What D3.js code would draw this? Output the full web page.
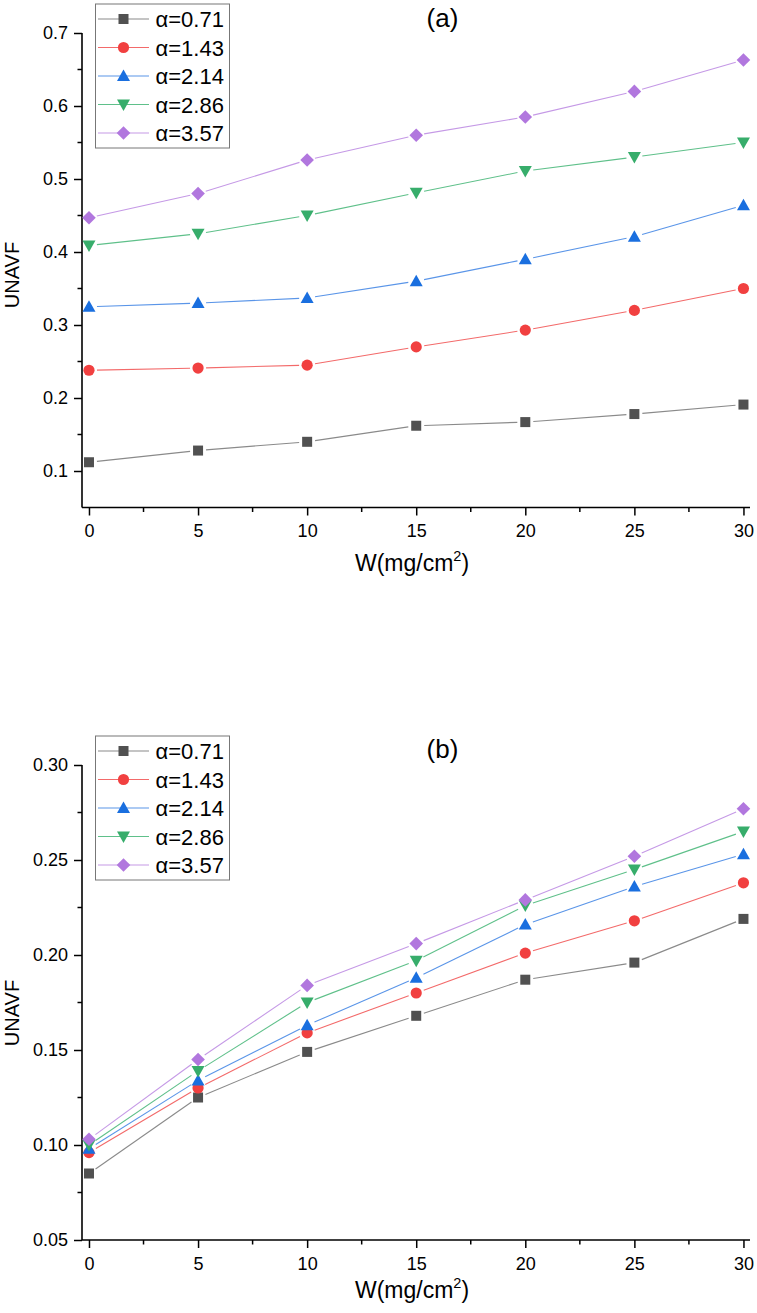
<!DOCTYPE html>
<html><head><meta charset="utf-8">
<script src="https://cdn.jsdelivr.net/npm/d3@7"></script>
<style>body{margin:0;background:#fff}svg{display:block}text{font-family:"Liberation Sans",Arial,sans-serif}</style>
</head><body>
<script>
const xValues = [0, 5, 10, 15, 20, 25, 30];
const seriesNames = ["α=0.71", "α=1.43", "α=2.14", "α=2.86", "α=3.57"];
const seriesColors = ["#515151", "#F14040", "#1A6FDF", "#37AD6B", "#B177DE"];
const lineColors = ["#8a8a8a", "#F36A6A", "#5A95E8", "#5FC08A", "#C599E6"];
const markerTypes = ["square", "circle", "triangle", "down", "diamond"];
const dataA = [
  [0.112, 0.128, 0.140, 0.162, 0.167, 0.178, 0.191],
  [0.238, 0.241, 0.245, 0.270, 0.293, 0.320, 0.350],
  [0.325, 0.330, 0.337, 0.360, 0.390, 0.421, 0.464],
  [0.409, 0.425, 0.450, 0.481, 0.511, 0.530, 0.550],
  [0.447, 0.480, 0.526, 0.560, 0.585, 0.620, 0.663]
];
const dataB = [
  [0.085, 0.125, 0.149, 0.168, 0.187, 0.196, 0.219],
  [0.096, 0.130, 0.159, 0.180, 0.201, 0.218, 0.238],
  [0.098, 0.134, 0.163, 0.188, 0.216, 0.236, 0.253],
  [0.100, 0.139, 0.175, 0.197, 0.226, 0.245, 0.265],
  [0.103, 0.145, 0.184, 0.206, 0.229, 0.252, 0.277]
];
const xTicks = [0, 5, 10, 15, 20, 25, 30];
const yTicksA = [0.1, 0.2, 0.3, 0.4, 0.5, 0.6, 0.7];
const yTicksB = [0.05, 0.10, 0.15, 0.20, 0.25, 0.30];

const W = 757, H = 1313;
const FONT = '"Liberation Sans",Arial,sans-serif';
const svg = d3.select("body").append("svg").attr("width", W).attr("height", H);

function marker(g, type, cx, cy, color) {
  if (type === "square") g.append("rect").attr("x", cx-5).attr("y", cy-5).attr("width", 10).attr("height", 10).attr("fill", color);
  else if (type === "circle") g.append("circle").attr("cx", cx).attr("cy", cy).attr("r", 5.6).attr("fill", color);
  else if (type === "triangle") g.append("path").attr("d", `M${cx},${cy-6.5}L${cx+6.5},${cy+5}L${cx-6.5},${cy+5}Z`).attr("fill", color);
  else if (type === "down") g.append("path").attr("d", `M${cx},${cy+6.5}L${cx+6.5},${cy-5}L${cx-6.5},${cy-5}Z`).attr("fill", color);
  else if (type === "diamond") g.append("path").attr("d", `M${cx},${cy-6.8}L${cx+6.8},${cy}L${cx},${cy+6.8}L${cx-6.8},${cy}Z`).attr("fill", color);
}

function panel(cfg) {
  const x = d3.scaleLinear().domain([-0.32, 30.3]).range([82, 750]);
  const y = d3.scaleLinear().domain(cfg.yDomain).range([cfg.bottom, cfg.top]);
  const g = svg.append("g");
  const xMinor = d3.range(2.5, 30, 5);
  g.append("g").selectAll("line").data(xMinor).join("line")
    .attr("x1", d => x(d)).attr("x2", d => x(d)).attr("y1", cfg.bottom).attr("y2", cfg.bottom + 4.5)
    .attr("stroke", "#000").attr("stroke-width", 1.5);
  g.append("g").selectAll("line").data(cfg.yMinor).join("line")
    .attr("x1", 82).attr("x2", 77.5).attr("y1", d => y(d)).attr("y2", d => y(d))
    .attr("stroke", "#000").attr("stroke-width", 1.5);
  const xAxis = d3.axisBottom(x).tickValues(xTicks).tickSize(8).tickPadding(9).tickFormat(d3.format("d"));
  const gx = g.append("g").attr("transform", `translate(0,${cfg.bottom})`).call(xAxis);
  gx.select(".domain").attr("d", `M82,0H750`).attr("stroke-width", 1.6);
  gx.selectAll(".tick line").attr("stroke-width", 1.5);
  gx.selectAll("text").attr("font-size", 18).attr("fill", "#000").attr("font-family", FONT);
  const yAxis = d3.axisLeft(y).tickValues(cfg.yTicks).tickSize(8).tickPadding(6).tickFormat(cfg.fmt);
  const gy = g.append("g").attr("transform", `translate(82,0)`).call(yAxis);
  gy.select(".domain").attr("d", `M0,${cfg.bottom}V${cfg.top}`).attr("stroke-width", 1.6);
  gy.selectAll(".tick line").attr("stroke-width", 1.5);
  gy.selectAll("text").attr("font-size", 18).attr("fill", "#000").attr("font-family", FONT);
  const tx = g.append("text").attr("x", 412).attr("y", cfg.bottom + cfg.xTitleOff).attr("text-anchor", "middle").attr("font-size", 23);
  tx.append("tspan").text("W(mg/cm");
  tx.append("tspan").text("2").attr("font-size", 14.5).attr("dy", -10);
  tx.append("tspan").text(")").attr("dy", 10);
  g.append("text").attr("transform", `translate(19,${cfg.yTitleC}) rotate(-90)`)
    .attr("text-anchor", "middle").attr("font-size", 20).text("UNAVF");
  g.append("text").attr("x", 442.5).attr("y", cfg.labelY).attr("text-anchor", "middle").attr("font-size", 26).text(cfg.label);
  cfg.data.forEach((vals, i) => {
    const pts = vals.map((v, j) => [x(xValues[j]), y(v)]);
    const sg = g.append("g");
    for (let j = 0; j < pts.length - 1; j++) {
      const [x1, y1] = pts[j], [x2, y2] = pts[j + 1];
      const len = Math.hypot(x2 - x1, y2 - y1), gap = 8;
      if (len <= 2 * gap) continue;
      const ux = (x2 - x1) / len, uy = (y2 - y1) / len;
      sg.append("line").attr("x1", x1 + ux * gap).attr("y1", y1 + uy * gap).attr("x2", x2 - ux * gap).attr("y2", y2 - uy * gap)
        .attr("stroke", lineColors[i]).attr("stroke-width", 1.1);
    }
    pts.forEach(p => marker(sg, markerTypes[i], p[0], p[1], seriesColors[i]));
  });
  const lg = g.append("g");
  lg.append("rect").attr("x", 95.5).attr("y", cfg.legTop).attr("width", 134).attr("height", 144)
    .attr("fill", "#fff").attr("stroke", "#777").attr("stroke-width", 1);
  seriesNames.forEach((n, i) => {
    const ry = cfg.legTop + 15 + i * 28.5;
    lg.append("line").attr("x1", 98).attr("x2", 149).attr("y1", ry).attr("y2", ry).attr("stroke", lineColors[i]).attr("stroke-width", 1.1);
    marker(lg, markerTypes[i], 123.5, ry, seriesColors[i]);
    lg.append("text").attr("x", 155.5).attr("y", ry + 8).attr("font-size", 22).text(n);
  });
}

panel({ yDomain: [0.05, 0.7], top: 33, bottom: 507.5, yTicks: yTicksA, yMinor: d3.range(0.15, 0.7, 0.1), fmt: d3.format(".1f"),
  data: dataA, label: "(a)", labelY: 27, legTop: 4, xTitleOff: 63, yTitleC: 275 });
panel({ yDomain: [0.05, 0.30], top: 765, bottom: 1240, yTicks: yTicksB, yMinor: d3.range(0.075, 0.3, 0.05), fmt: d3.format(".2f"),
  data: dataB, label: "(b)", labelY: 758, legTop: 736, xTitleOff: 58, yTitleC: 1013 });
</script>
</body></html>
